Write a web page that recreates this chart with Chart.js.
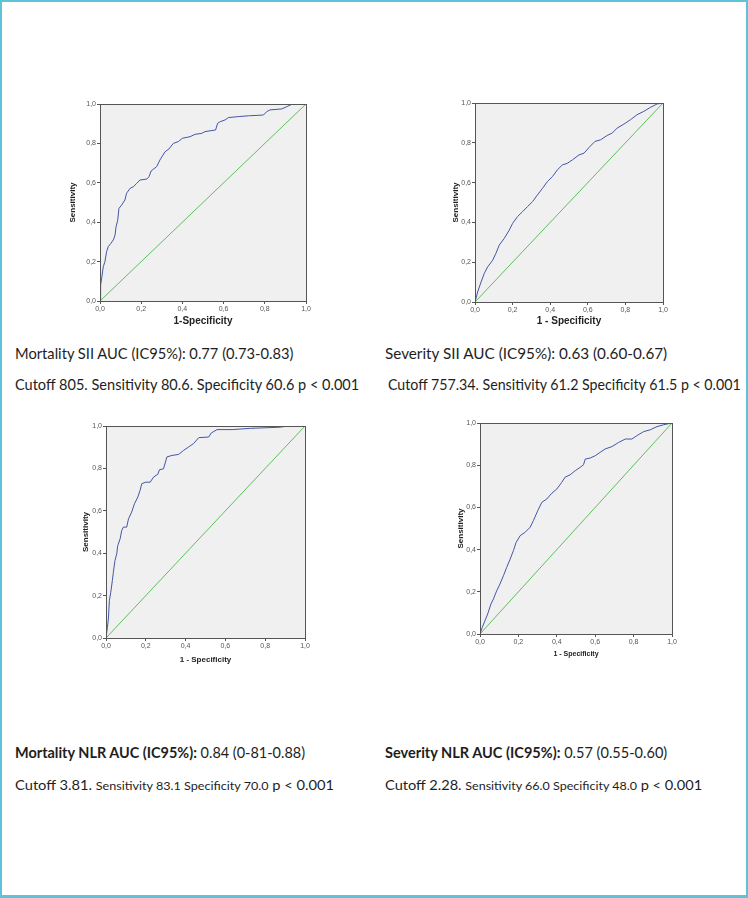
<!DOCTYPE html>
<html>
<head>
<meta charset="utf-8">
<script src="https://cdn.jsdelivr.net/npm/chart.js@4.4.1/dist/chart.umd.min.js"></script>
<style>
  html, body { margin:0; padding:0; background:#fff; }
  #page { position:relative; width:748px; height:898px; box-sizing:border-box; border:2px solid #5ec3d6; border-bottom-width:3px; overflow:hidden; background:#fff; }
  canvas { position:absolute; }
  .txt { position:absolute; white-space:nowrap; color:#1e1e1e; font-family:Lato, "Open Sans", sans-serif; transform-origin:0 50%; line-height:1; }
  .b { font-weight:bold; }
  .s { font-size:12px; }
</style>
</head>
<body>
<div id="page">
  <canvas id="c1"></canvas>
  <canvas id="c2"></canvas>
  <canvas id="c3"></canvas>
  <canvas id="c4"></canvas>

  <div class="txt" data-w="278" data-cy="351" style="left:13px;font-size:15px;">Mortality SII AUC (IC95%): 0.77 (0.73-0.83)</div>
  <div class="txt" data-w="344" data-cy="382" style="left:13px;font-size:15px;">Cutoff 805. Sensitivity 80.6. Specificity 60.6 p &lt; 0.001</div>
  <div class="txt" data-w="282" data-cy="351" style="left:383px;font-size:15px;">Severity SII AUC (IC95%): 0.63 (0.60-0.67)</div>
  <div class="txt" data-w="353" data-cy="382" style="left:386px;font-size:15px;">Cutoff 757.34. Sensitivity 61.2 Specificity 61.5 p &lt; 0.001</div>

  <div class="txt" data-w="290" data-cy="750" style="left:13px;font-size:15px;"><span class="b">Mortality NLR AUC (IC95%):</span> 0.84 (0-81-0.88)</div>
  <div class="txt" data-w="282" data-cy="750" style="left:383px;font-size:15px;"><span class="b">Severity NLR AUC (IC95%):</span> 0.57 (0.55-0.60)</div>
  <div class="txt" data-w="319" data-cy="783" style="left:13px;font-size:14px;">Cutoff 3.81. <span class="s">Sensitivity 83.1 Specificity 70.0</span> p &lt; 0.001</div>
  <div class="txt" data-w="317" data-cy="783" style="left:383px;font-size:14px;">Cutoff 2.28. <span class="s">Sensitivity 66.0 Specificity 48.0</span> p &lt; 0.001</div>
</div>
<script>
// ---------- DATA ----------
const tickLabels = ["0,0", "0,2", "0,4", "0,6", "0,8", "1,0"];
const tickValues = [0, 0.2, 0.4, 0.6, 0.8, 1.0];
const diagonal = [0, 1];

// Mortality SII (1 - specificity, sensitivity)
const mortSII_fpr = [0,0.003,0.008,0.016,0.024,0.032,0.04,0.053,0.065,0.073,0.078,0.086,0.092,0.105,0.121,0.129,0.146,0.162,0.178,0.194,0.227,0.238,0.248,0.275,0.291,0.316,0.335,0.356,0.38,0.4,0.437,0.461,0.494,0.51,0.561,0.571,0.583,0.607,0.623,0.672,0.72,0.793,0.809,0.825,0.882,0.906,0.93,1];
const mortSII_tpr = [0,0.08,0.115,0.174,0.2,0.25,0.276,0.293,0.31,0.335,0.377,0.41,0.47,0.487,0.513,0.547,0.572,0.58,0.597,0.614,0.619,0.631,0.66,0.682,0.716,0.758,0.772,0.8,0.809,0.826,0.834,0.846,0.851,0.86,0.868,0.902,0.91,0.919,0.931,0.936,0.94,0.944,0.961,0.97,0.975,0.986,0.998,1];

// Severity SII
const sevSII_fpr = [0,0.014,0.032,0.049,0.067,0.094,0.111,0.129,0.155,0.182,0.2,0.226,0.253,0.279,0.306,0.332,0.359,0.385,0.412,0.438,0.465,0.491,0.518,0.553,0.58,0.606,0.638,0.668,0.703,0.73,0.756,0.792,0.827,0.862,0.898,0.933,0.968,1];
const sevSII_tpr = [0,0.05,0.1,0.143,0.176,0.21,0.244,0.286,0.319,0.361,0.395,0.429,0.454,0.479,0.504,0.538,0.571,0.605,0.63,0.664,0.689,0.697,0.714,0.739,0.748,0.776,0.807,0.815,0.837,0.849,0.874,0.894,0.916,0.941,0.958,0.978,0.995,1];

// Mortality NLR
const mortNLR_fpr = [0,0.007,0.012,0.017,0.024,0.032,0.037,0.045,0.054,0.059,0.071,0.079,0.087,0.104,0.113,0.129,0.143,0.16,0.171,0.18,0.2,0.222,0.239,0.26,0.269,0.289,0.306,0.331,0.365,0.39,0.415,0.44,0.466,0.516,0.529,0.558,0.634,0.726,0.869,0.919,1];
const mortNLR_tpr = [0,0.05,0.09,0.176,0.216,0.271,0.31,0.365,0.397,0.436,0.468,0.507,0.523,0.523,0.562,0.594,0.633,0.665,0.696,0.728,0.735,0.735,0.759,0.772,0.794,0.798,0.854,0.861,0.866,0.885,0.901,0.917,0.945,0.948,0.967,0.983,0.983,0.989,0.994,1,1];

// Severity NLR
const sevNLR_fpr = [0,0.012,0.026,0.04,0.057,0.07,0.087,0.104,0.122,0.139,0.157,0.174,0.188,0.209,0.235,0.261,0.278,0.301,0.322,0.348,0.374,0.4,0.426,0.443,0.47,0.496,0.522,0.539,0.548,0.574,0.6,0.626,0.652,0.687,0.722,0.757,0.791,0.817,0.852,0.887,0.922,0.957,1];
const sevNLR_tpr = [0,0.032,0.063,0.095,0.142,0.166,0.205,0.237,0.276,0.316,0.355,0.395,0.434,0.466,0.482,0.506,0.537,0.585,0.624,0.64,0.667,0.687,0.719,0.743,0.755,0.774,0.79,0.802,0.829,0.834,0.845,0.861,0.877,0.888,0.908,0.924,0.924,0.94,0.959,0.968,0.983,0.992,1];

// ---------- CHARTS ----------
const bgPlugin = {
  id: 'bgBox',
  beforeDraw(chart) {
    const a = chart.chartArea, ctx = chart.ctx;
    ctx.save(); ctx.fillStyle = '#f0f0f0';
    ctx.fillRect(a.left, a.top, a.right - a.left, a.bottom - a.top);
    ctx.restore();
  },
  afterDatasetsDraw(chart) {
    const a = chart.chartArea, ctx = chart.ctx;
    ctx.save(); ctx.strokeStyle = '#555'; ctx.lineWidth = 1;
    ctx.strokeRect(Math.round(a.left) + 0.5, Math.round(a.top) + 0.5, Math.round(a.right - a.left), Math.round(a.bottom - a.top));
    ctx.restore();
  }
};

function pts(xs, ys) { return xs.map((x, i) => ({ x: x, y: ys[i] })); }

function roc(id, fpr, tpr, L) {
  const cv = document.getElementById(id);
  cv.style.left = L.left + 'px'; cv.style.top = L.top + 'px';
  cv.width = L.width; cv.height = L.height;
  cv.style.width = L.width + 'px'; cv.style.height = L.height + 'px';
  const tickFont = { family: 'Liberation Sans', size: 7 };
  new Chart(cv, {
    type: 'line',
    data: {
      datasets: [
        { data: pts(diagonal, diagonal), borderColor: '#5cc05c', borderWidth: 1, pointRadius: 0, tension: 0 },
        { data: pts(fpr, tpr), borderColor: '#4556a6', borderWidth: 1, pointRadius: 0, tension: 0 }
      ]
    },
    options: {
      responsive: false, animation: false, devicePixelRatio: 1,
      layout: { padding: { top: L.padTop, right: L.padRight, left: 0, bottom: 0 } },
      plugins: { legend: { display: false }, tooltip: { enabled: false } },
      scales: {
        x: {
          type: 'linear', min: 0, max: 1,
          afterFit(s) { s.height = L.xH; },
          afterBuildTicks(s) { s.ticks = tickValues.map(v => ({ value: v })); },
          ticks: { callback: (v, i) => tickLabels[i], font: tickFont, color: '#555', padding: 1, maxRotation: 0, autoSkip: false },
          grid: { drawOnChartArea: false, drawTicks: true, tickLength: 3, color: '#555' },
          border: { color: '#555' },
          title: { display: true, text: L.xTitle, color: '#222', font: { family: 'Liberation Sans', size: L.xTitleSize, weight: 'bold' }, padding: { top: 0, bottom: L.xTitlePad } }
        },
        y: {
          type: 'linear', min: 0, max: 1,
          afterFit(s) { s.width = L.yW; },
          afterBuildTicks(s) { s.ticks = tickValues.map(v => ({ value: v })); },
          ticks: { callback: (v, i) => tickLabels[i], font: tickFont, color: '#555', padding: 1, autoSkip: false },
          grid: { drawOnChartArea: false, drawTicks: true, tickLength: 3, color: '#555' },
          border: { color: '#555' },
          title: { display: true, text: 'Sensitivity', color: '#222', font: { family: 'Liberation Sans', size: 8, weight: 'bold' }, padding: { top: 2, bottom: 0 } }
        }
      }
    },
    plugins: [bgPlugin]
  });
}

roc('c1', mortSII_fpr, mortSII_tpr, { left: 64, top: 94, width: 250, height: 235, yW: 34, xH: 30, padTop: 8, padRight: 10, xTitle: '1-Specificity', xTitleSize: 10, xTitlePad: 4 });
roc('c2', sevSII_fpr, sevSII_tpr, { left: 447, top: 93, width: 224, height: 236, yW: 26, xH: 29, padTop: 8, padRight: 10, xTitle: '1 - Specificity', xTitleSize: 10, xTitlePad: 4 });
roc('c3', mortNLR_fpr, mortNLR_tpr, { left: 77, top: 416, width: 236, height: 251, yW: 27, xH: 31, padTop: 8, padRight: 10, xTitle: '1 - Specificity', xTitleSize: 8, xTitlePad: 4 });
roc('c4', sevNLR_fpr, sevNLR_tpr, { left: 452, top: 413, width: 228, height: 247, yW: 26, xH: 28, padTop: 8, padRight: 10, xTitle: '1 - Specificity', xTitleSize: 7, xTitlePad: 4 });

// ---------- text fitting ----------
function fitText() {
  document.querySelectorAll('.txt').forEach(el => {
    const w = el.scrollWidth, h = el.offsetHeight;
    const target = parseFloat(el.dataset.w);
    el.style.top = (parseFloat(el.dataset.cy) - h / 2) + 'px';
    el.style.transform = 'scaleX(' + (target / w) + ')';
  });
}
fitText();
if (document.fonts && document.fonts.ready) document.fonts.ready.then(fitText);
</script>
</body>
</html>
